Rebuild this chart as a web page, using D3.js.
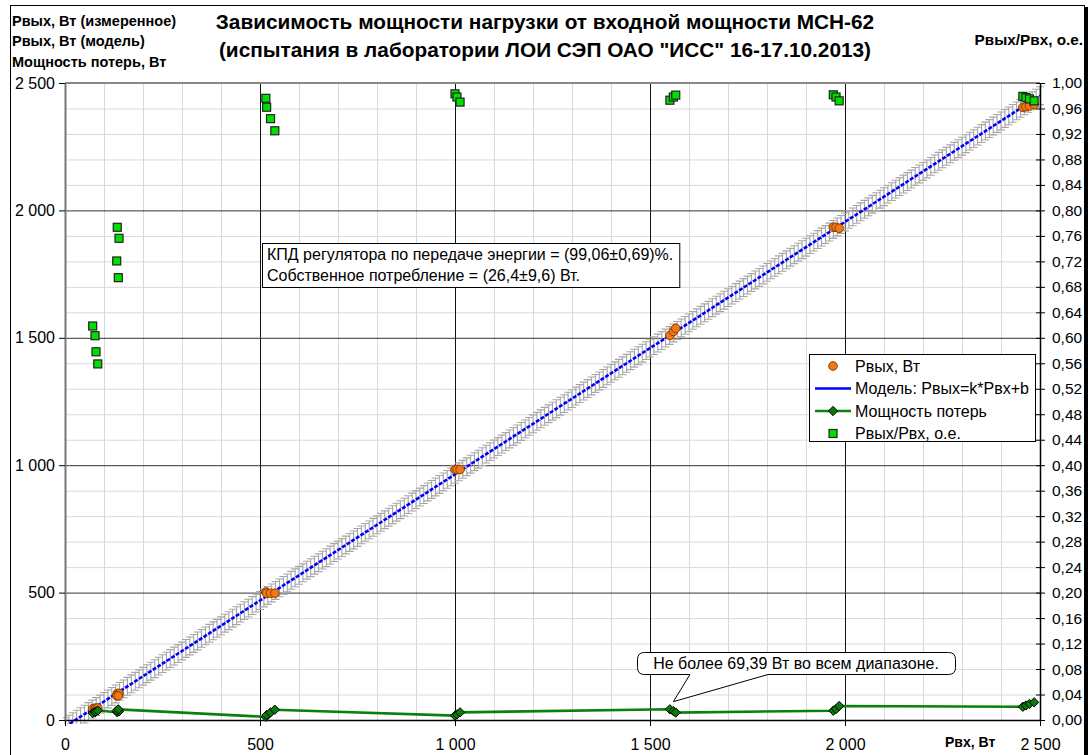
<!DOCTYPE html>
<html><head><meta charset="utf-8">
<script src="https://cdn.jsdelivr.net/npm/d3@7"></script>
<style>body{margin:0;background:#fff} svg{display:block} text{font-family:"Liberation Sans",Arial,sans-serif;fill:#000}</style>
</head><body><svg id="c" width="1090" height="755"></svg>
<script>
// ---- data ----
const pinMeasured  = [71, 77, 79.5, 84, 134, 138.5, 132.6, 136.7, 515, 517, 527, 538, 1000, 1005, 1013, 1551, 1560, 1566, 1970, 1977, 1985, 2456, 2464, 2473, 2485];
const poutMeasured = [44, 46.4, 46, 47, 103.6, 104.7, 95.6, 94.9, 502.6, 497.4, 497.5, 497.6, 983, 983, 983, 1509, 1525, 1537, 1933.5, 1934, 1930, 2404, 2407, 2410, 2415.6];
const lossMeasured = [27, 30.6, 33.5, 37, 30.4, 33.8, 37, 41.8, 12.4, 19.6, 29.5, 40.4, 17, 22, 30, 42, 35, 29, 36.5, 43, 55, 52, 57, 63, 69.4];
const effMeasured  = [0.6185, 0.6033, 0.578, 0.559, 0.7735, 0.7562, 0.7206, 0.6944, 0.976, 0.962, 0.944, 0.925, 0.983, 0.978, 0.970, 0.973, 0.978, 0.981, 0.9815, 0.978, 0.972, 0.979, 0.977, 0.975, 0.972];
const modelK = 0.9906, modelB = -26.4, modelErr = 35;      // from the annotation
const modelPinStep = 10;
const xTicks = [0, 500, 1000, 1500, 2000, 2500];
const yTicks = [0, 500, 1000, 1500, 2000, 2500];
const y2Ticks = d3.range(0, 26).map(i => i * 0.04);
const titleLines = ["Зависимость мощности нагрузки от входной мощности МСН-62", "(испытания в лаборатории ЛОИ СЭП ОАО \"ИСС\" 16-17.10.2013)"];
const leftTitle = ["Рвых, Вт (измеренное)", "Рвых, Вт (модель)", "Мощность потерь, Вт"];
const legendItems = ["Рвых, Вт", "Модель: Рвых=k*Рвх+b", "Мощность потерь", "Рвых/Рвх, о.е."];
const noteLines = ["КПД регулятора по передаче энергии = (99,06±0,69)%.", "Собственное потребление = (26,4±9,6) Вт."];
const calloutText = "Не более 69,39 Вт во всем диапазоне.";
const calloutTarget = [1560, 72];

// ---- drawing ----
const svg = d3.select("#c");
const L = 65, R = 1040, T = 83, B = 720;
const x = d3.scaleLinear([0, 2500], [L, R]);
const y = d3.scaleLinear([0, 2500], [B, T]);
const y2 = d3.scaleLinear([0, 1], [B, T]);
const loc = d3.formatLocale({decimal: ",", thousands: " ", grouping: [3], currency: ["", ""]});
const fInt = loc.format(",d"), f2 = loc.format(".2f");
const ORANGE = "#f07818", ORANGE_S = "#8a3c00", GREEN_L = "#0a820a", DIAM = "#0b7a0b", SQ = "#00e000";

// outer frame
svg.append("rect").attr("x", 10.5).attr("y", 5.5).attr("width", 1074).attr("height", 760).attr("fill", "none").attr("stroke", "#000");
svg.append("rect").attr("x", 1085).attr("y", 7).attr("width", 3).attr("height", 760).attr("fill", "#000");

// grid
const g = svg.append("g");
const minor = d3.range(100, 2500, 100).filter(v => v % 500 !== 0);
g.selectAll(".vx").data(minor).join("line").attr("x1", d => x(d)+0.5).attr("x2", d => x(d)+0.5).attr("y1", T).attr("y2", B).attr("stroke", "#d9d9d9");
g.selectAll(".hy").data(minor).join("line").attr("y1", d => y(d)+0.5).attr("y2", d => y(d)+0.5).attr("x1", L).attr("x2", R).attr("stroke", "#d9d9d9");
const major = [500, 1000, 1500, 2000];
g.selectAll(".vX").data(major).join("line").attr("x1", d => x(d)+0.5).attr("x2", d => x(d)+0.5).attr("y1", T).attr("y2", B).attr("stroke", "#111");
g.selectAll(".hY").data(major).join("line").attr("y1", d => y(d)+0.5).attr("y2", d => y(d)+0.5).attr("x1", L).attr("x2", R).attr("stroke", "#333");
svg.append("line").attr("x1", L).attr("x2", R).attr("y1", T).attr("y2", T).attr("stroke", "#888").attr("stroke-width", 2);

svg.append("clipPath").attr("id", "pc").append("rect").attr("x", L - 2).attr("y", T - 12).attr("width", R - L + 12).attr("height", B - T + 16);

// model error bars
const modelPin = d3.range(0, 2500 + 1, modelPinStep);
const eb = svg.append("g").attr("clip-path", "url(#pc)").attr("stroke", "#a6a6a6").attr("stroke-width", 1.1).attr("fill", "none");
modelPin.forEach(p => {
  const v = modelK * p + modelB;
  const px = x(p), yt = y(v + modelErr), yb = y(v - modelErr);
  eb.append("path").attr("d", `M${px},${yt}V${yb}M${px-4},${yt}H${px+4}M${px-4},${yb}H${px+4}`);
});
// model line
svg.append("path").attr("clip-path", "url(#pc)")
  .datum(modelPin).attr("fill", "none").attr("stroke", "#0000ff").attr("stroke-width", 2.6).attr("stroke-dasharray", "4,1.5")
  .attr("d", d3.line().x(d => x(d)).y(d => y(modelK * d + modelB)));

// axes
const ax = svg.append("g").attr("transform", `translate(0,${B})`)
  .call(d3.axisBottom(x).tickValues(xTicks).tickFormat(fInt).tickSize(6).tickSizeOuter(0));
ax.select(".domain").attr("stroke", "#000").attr("stroke-width", 1.5);
ax.selectAll("text").attr("font-size", 16).attr("y", 30).attr("dy", 0);
const ayl = svg.append("g").attr("transform", `translate(${L},0)`)
  .call(d3.axisLeft(y).tickValues(yTicks).tickFormat(fInt).tickSize(6).tickSizeOuter(0));
ayl.select(".domain").attr("stroke", "#777").attr("stroke-width", 2);
ayl.selectAll("text").attr("font-size", 16).attr("x", -10);
const ayr = svg.append("g").attr("transform", `translate(${R},0)`)
  .call(d3.axisRight(y2).tickValues(y2Ticks).tickFormat(f2).tickSize(5).tickSizeOuter(0));
ayr.select(".domain").attr("stroke", "#000").attr("stroke-width", 1.5);
ayr.selectAll(".tick line").attr("x1", -4);
ayr.selectAll("text").attr("font-size", 15.5).attr("x", 12);
svg.selectAll(".tick line").attr("stroke", "#000");
svg.selectAll(".tick text").attr("fill", "#000").style("font-family", "'Liberation Sans',Arial,sans-serif");

// measured Pout
const idx = d3.range(pinMeasured.length);
svg.append("g").selectAll("circle").data(idx).join("circle")
  .attr("cx", i => x(pinMeasured[i])).attr("cy", i => y(poutMeasured[i])).attr("r", 4.3)
  .attr("fill", ORANGE).attr("stroke", ORANGE_S).attr("stroke-width", 1);

// losses
svg.append("path").datum(idx).attr("fill", "none").attr("stroke", GREEN_L).attr("stroke-width", 2.6)
  .attr("d", d3.line().x(i => x(pinMeasured[i])).y(i => y(lossMeasured[i])));
svg.append("g").selectAll("path").data(idx).join("path")
  .attr("transform", i => `translate(${x(pinMeasured[i])},${y(lossMeasured[i])})`)
  .attr("d", d3.symbol(d3.symbolDiamond2, 55)).attr("fill", DIAM).attr("stroke", "#000").attr("stroke-width", 1);

// efficiency
svg.append("g").selectAll("rect").data(idx).join("rect")
  .attr("x", i => x(pinMeasured[i]) - 4).attr("y", i => y2(effMeasured[i]) - 4).attr("width", 8).attr("height", 8)
  .attr("fill", SQ).attr("stroke", "#222").attr("stroke-width", 1.2);

// titles
svg.append("g").selectAll("text").data(titleLines).join("text")
  .attr("x", 545).attr("y", (d, i) => 29 + i * 28).attr("text-anchor", "middle")
  .attr("font-size", 20.8).attr("font-weight", "bold").text(d => d);
svg.append("g").selectAll("text").data(leftTitle).join("text")
  .attr("x", 12).attr("y", (d, i) => 25.5 + i * 20.5)
  .attr("font-size", 14.5).attr("font-weight", "bold").text(d => d);
svg.append("text").attr("x", 1083).attr("y", 44.5).attr("text-anchor", "end")
  .attr("font-size", 15.3).attr("font-weight", "bold").text("Рвых/Рвх, о.е.");
svg.append("text").attr("x", 945).attr("y", 747)
  .attr("font-size", 14).attr("font-weight", "bold").text("Рвх, Вт");

// note box
const ng = svg.append("g");
const nrect = ng.append("rect").attr("fill", "#fff").attr("stroke", "#000");
const nt = ng.selectAll("text").data(noteLines).join("text")
  .attr("x", 267).attr("y", (d, i) => 259.5 + i * 21).attr("font-size", 16).text(d => d);
const noteW = d3.max(nt.nodes(), n => n.getComputedTextLength());
nrect.attr("x", 262.5).attr("y", 243.5).attr("width", noteW + 11).attr("height", 44);

// legend
const lg = svg.append("g");
const lbox = lg.append("rect").attr("fill", "#fff").attr("stroke", "#000");
const ly = i => 366 + i * 22.5;
const lt = lg.selectAll("text").data(legendItems).join("text").attr("y", (d, i) => ly(i) + 5.5).attr("font-size", 16).text(d => d);
const lw = d3.max(lt.nodes(), n => n.getComputedTextLength());
const textX = 1029 - lw, symX = textX - 22, boxX = textX - 46;
lt.attr("x", textX);
lbox.attr("x", boxX + 0.5).attr("y", 354.5).attr("width", 1035 - boxX).attr("height", 87);
lg.append("circle").attr("cx", symX).attr("cy", ly(0)).attr("r", 4.3).attr("fill", ORANGE).attr("stroke", ORANGE_S);
lg.append("line").attr("x1", symX - 18).attr("x2", symX + 18).attr("y1", ly(1)).attr("y2", ly(1)).attr("stroke", "#0000ff").attr("stroke-width", 2.6);
lg.append("line").attr("x1", symX - 18).attr("x2", symX + 18).attr("y1", ly(2)).attr("y2", ly(2)).attr("stroke", GREEN_L).attr("stroke-width", 2.6);
lg.append("path").attr("transform", `translate(${symX},${ly(2)})`).attr("d", d3.symbol(d3.symbolDiamond2, 55)).attr("fill", DIAM).attr("stroke", "#000");
lg.append("rect").attr("x", symX - 4).attr("y", ly(3) - 4).attr("width", 8).attr("height", 8).attr("fill", SQ).attr("stroke", "#222").attr("stroke-width", 1.2);

// callout
const cx0 = 637.5, cx1 = 955.5, cy0 = 652.5, cy1 = 674.5, r = 7;
const tx = x(calloutTarget[0]), ty = y(calloutTarget[1]);
svg.append("path").attr("fill", "#fff").attr("stroke", "#000").attr("stroke-width", 1)
  .attr("d", `M${cx0 + r},${cy0} H${cx1 - r} Q${cx1},${cy0} ${cx1},${cy0 + r} V${cy1 - r} Q${cx1},${cy1} ${cx1 - r},${cy1} H768 L${tx},${ty} L690,${cy1} H${cx0 + r} Q${cx0},${cy1} ${cx0},${cy1 - r} V${cy0 + r} Q${cx0},${cy0} ${cx0 + r},${cy0} Z`);
svg.append("text").attr("x", 796).attr("y", 668.5).attr("text-anchor", "middle").attr("font-size", 16).text(calloutText);
</script></body></html>
